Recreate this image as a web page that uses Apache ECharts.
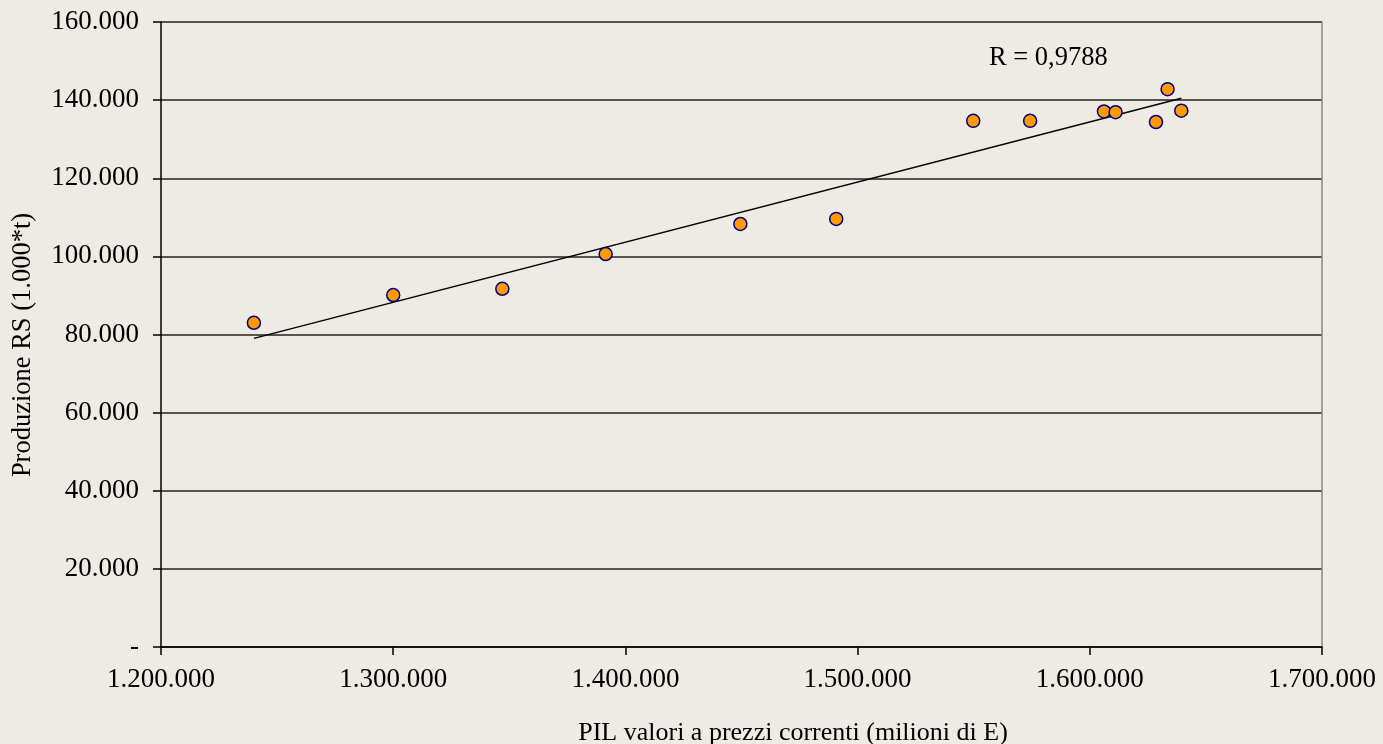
<!DOCTYPE html>
<html><head><meta charset="utf-8">
<script src="https://cdn.jsdelivr.net/npm/echarts@6/dist/echarts.min.js"></script>
<style>html,body{margin:0;padding:0;background:#EEEBE4;}#c{width:1383px;height:744px;}</style>
</head><body><div id="c"></div>
<script>
const pil = [1240000, 1300000, 1347000, 1391500, 1449500, 1490800, 1549800, 1574300, 1606100, 1611100, 1628500, 1633500, 1639400];
const rs  = [83000, 90100, 91700, 100600, 108300, 109600, 134700, 134700, 137100, 136900, 134400, 142800, 137300];
const xTicks = [1200000, 1700000, 100000];
const yTicks = [0, 160000, 20000];
const rLabel = 'R = 0,9788';
const xName = 'PIL valori a prezzi correnti (milioni di E)';
const yName = 'Produzione RS (1.000*t)';

// least squares trend line
const n = pil.length;
let sx=0, sy=0, sxx=0, sxy=0;
for (let i=0;i<n;i++){ sx+=pil[i]; sy+=rs[i]; sxx+=pil[i]*pil[i]; sxy+=pil[i]*rs[i]; }
const b = (n*sxy - sx*sy)/(n*sxx - sx*sx);
const a = (sy - b*sx)/n;
const xmin = Math.min(...pil), xmax = Math.max(...pil);
const trend = [[xmin, a+b*xmin],[xmax, a+b*xmax]];

function fmt(v){ if (v===0) return '-'; return String(Math.round(v)).replace(/\B(?=(\d{3})+(?!\d))/g,'.'); }
const font = 'Liberation Serif';
const chart = echarts.init(document.getElementById('c'));
chart.setOption({
  backgroundColor:'#EEEBE4',
  animation:false,
  grid:{left:161,right:61,top:22,bottom:97,outerBoundsMode:'none',containLabel:false},
  xAxis:{type:'value',min:xTicks[0],max:xTicks[1],interval:xTicks[2],
    axisLine:{show:true,onZero:false,lineStyle:{color:'#000',width:1.5}},
    axisTick:{show:true,length:8,lineStyle:{color:'#000',width:1.5}},
    axisLabel:{formatter:fmt,fontFamily:font,fontSize:27,color:'#000',margin:19},
    splitLine:{show:false}},
  yAxis:[{type:'value',min:yTicks[0],max:yTicks[1],interval:yTicks[2],
    axisLine:{show:true,lineStyle:{color:'#000',width:1.5}},
    axisTick:{show:true,length:8,lineStyle:{color:'#000',width:1.5}},
    axisLabel:{formatter:fmt,fontFamily:font,fontSize:27,color:'#000',margin:22},
    splitLine:{show:true,lineStyle:{color:'#222',width:1.5}}},
   {type:'value',position:'right',min:yTicks[0],max:yTicks[1],interval:yTicks[2],
    axisLine:{show:true,lineStyle:{color:'#888',width:1.5}},
    axisTick:{show:false},axisLabel:{show:false},splitLine:{show:false}}],
  graphic:[
    {type:'text',left:989,top:45,style:{text:rLabel,font:'26.5px "Liberation Serif"',fill:'#000'}},
    {type:'text',x:793,y:733,style:{text:xName,font:'26px "Liberation Serif"',fill:'#000',textAlign:'center',textVerticalAlign:'middle'}},
    {type:'text',x:23,y:345,rotation:Math.PI/2,style:{text:yName,font:'26.5px "Liberation Serif"',fill:'#000',textAlign:'center',textVerticalAlign:'middle'}}
  ],
  series:[
    {type:'line',data:trend,symbol:'none',lineStyle:{color:'#000',width:1.5},z:2,silent:true},
    {type:'scatter',data:pil.map((x,i)=>[x,rs[i]]),symbol:'circle',symbolSize:13,
     itemStyle:{color:'#FF9900',borderColor:'#000080',borderWidth:1.5,opacity:1},z:3}
  ]
});
</script></body></html>
